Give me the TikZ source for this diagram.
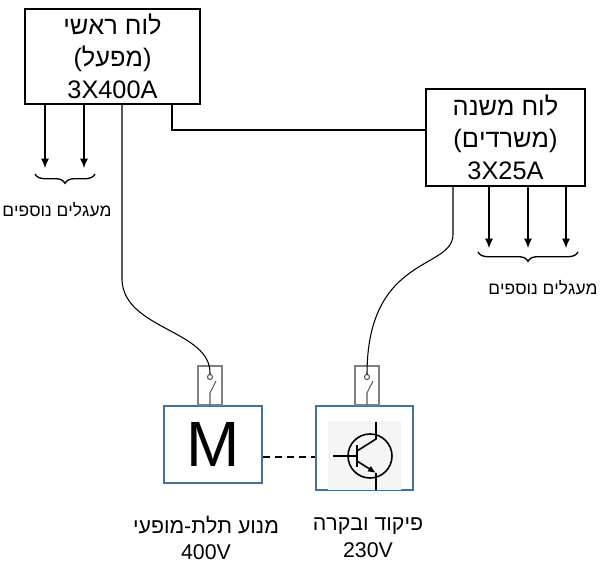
\documentclass[tikz,border=0pt]{standalone}
\usepackage{fontspec}
\setmainfont{Liberation Sans}
\usetikzlibrary{positioning,decorations.pathreplacing,arrows.meta}
\TeXXeTstate=1
\newcommand{\heb}[1]{\beginR #1\endR}
\definecolor{boxblue}{RGB}{65,113,156}
\tikzset{
  board/.style={draw, align=center, font=\fontsize{19}{24}\selectfont, inner sep=0pt},
  load/.style={draw=boxblue, line width=1.3pt},
  note/.style={font=\fontsize{13}{16}\selectfont},
  feed/.style={-{Latex[length=7pt,width=6pt]}},
}
\begin{document}
\begin{tikzpicture}[x=0.75pt,y=-0.75pt, every path/.style={line width=0.8pt}]
\useasboundingbox (0,0) rectangle (612,575);

% boards
\node[board, minimum width=131.25pt, minimum height=71.25pt] (main) at (112.5,56.5) {\heb{לוח ראשי}\\(\heb{מפעל})\\3X400A};
\node[board, minimum width=119.25pt, minimum height=72.75pt] (sub) at (505.5,137.5) {\heb{לוח משנה}\\(\heb{משרדים})\\3X25A};
\draw (172,104) -- (172,130) -- (sub.west |- 0,130);

% extra circuits
\foreach \x in {45,84} \draw[feed] (\x,104) -- (\x,168);
\foreach \x in {489,528,566} \draw[feed] (\x,186) -- (\x,248);
\draw[line width=1pt, decorate, decoration={brace, mirror, amplitude=7pt}] (35,174) -- (95,174);
\draw[line width=1pt, decorate, decoration={brace, mirror, amplitude=7pt}] (478,252) -- (578,252);
\node[note] (extraA) at (57,210) {\heb{מעגלים נוספים}};
\node[note] (extraB) at (543,288) {\heb{מעגלים נוספים}};

% loads
\node[load, minimum width=73.5pt, minimum height=57.75pt] (motor) at (213,444.5) {\fontsize{48}{48}\selectfont M};
\node[load, minimum width=72.75pt, minimum height=63pt] (ctrl) at (364.5,448) {};
\draw[dashed, line width=1.3pt, dash pattern=on 5pt off 4pt] (motor.east |- 0,457) -- (ctrl.west |- 0,457);
\fill[black!4] (328,421) rectangle (401,490);

% transistor
\draw[line width=1.2pt] (370,456) circle[radius=22];
\draw[line width=1.2pt] (333,456) -- (357,456) (357,445) -- (357,467);
\draw[line width=1.2pt] (357,451) -- (376,439) -- (376,422);
\draw[line width=1.2pt, -{Latex[length=6pt,width=5pt]}] (357,461) -- (376,473);
\draw[line width=1.2pt] (376,473) -- (376,490);

% switches
\foreach \x/\t in {210/swA,367/swB} {
  \draw[gray, line width=1pt] (\x-12,366) rectangle (\x+12,405);
  \draw[gray!70!black] (\x,377) circle[radius=2.5];
  \draw[gray!70!black] (\x,405) -- (\x,393) -- (\x+6,381);
}

% feeders
\draw (122,104) -- (122,280) .. controls (124,330) and (212,330) .. (210,374.5);
\draw (453,186) -- (453,235) .. controls (452,270) and (367,255) .. (367,374.5);

% captions
\node[align=center, font=\fontsize{16}{20}\selectfont] (capA) at (206,538) {\heb{מנוע תלת-מופעי}\\400V};
\node[align=center, font=\fontsize{16}{20}\selectfont] (capB) at (368,538) {\heb{פיקוד ובקרה}\\230V};
\end{tikzpicture}
\end{document}
